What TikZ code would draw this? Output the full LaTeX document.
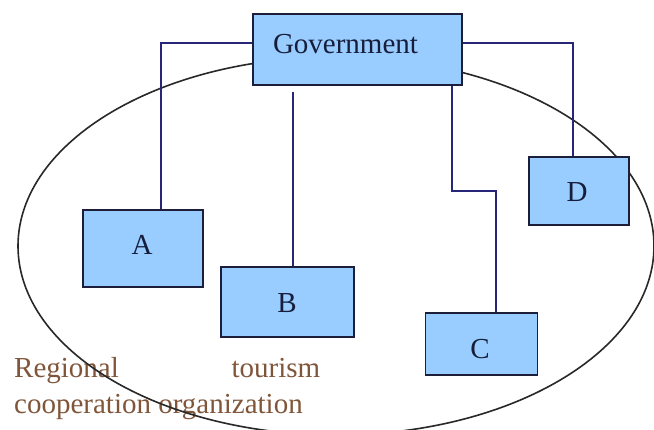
\documentclass[tikz,border=0pt]{standalone}
\usepackage{fontspec}
\setmainfont{Liberation Serif}
\begin{document}
\begin{tikzpicture}[x=1pt,y=-1pt,
  unitbox/.style={draw=boxline, fill=boxfill, line width=1.8pt, inner sep=0pt},
  boxtext/.style={text=textnavy, font=\fontsize{29}{34}\selectfont, inner sep=0pt},
  link/.style={draw=linkblue, line width=1.4pt},
  captext/.style={text=capbrown, font=\fontsize{29}{36}\selectfont, inner sep=0pt, anchor=base west}]
\definecolor{boxfill}{RGB}{153,204,255}
\definecolor{boxline}{RGB}{28,30,58}
\definecolor{linkblue}{RGB}{40,38,120}
\definecolor{textnavy}{RGB}{22,30,60}
\definecolor{capbrown}{RGB}{128,86,58}
\definecolor{ringgray}{RGB}{40,40,40}

\useasboundingbox[fill=white] (0,0) rectangle (654,430);

% caption of the enclosing organization
\node[captext] (cap1) at (14,378) {\makebox[306pt][s]{Regional tourism}};
\node[captext] (cap2) at (14,414) {cooperation organization};

% the regional organization
\draw[ringgray, line width=1.6pt] (336,246) ellipse [x radius=318, y radius=189];

% units
\node[unitbox, minimum width=209pt, minimum height=71pt] (gov) at (357.5,49.5) {};
\node[unitbox, minimum width=120pt, minimum height=77pt] (a) at (143,248.5) {};
\node[unitbox, minimum width=133pt, minimum height=70pt] (b) at (287.5,302) {};
\node[unitbox, minimum width=112pt, minimum height=62pt] (c) at (481.5,344) {};
\node[unitbox, minimum width=100pt, minimum height=68pt] (d) at (579,191) {};

\node[boxtext] (govt) at (345.5,44) {Government};
\node[boxtext] (at) at (142,245) {A};
\node[boxtext] (bt) at (287,303) {B};
\node[boxtext] (ct) at (480,349) {C};
\node[boxtext] (dt) at (577,192) {D};

% connectors from the government
\coordinate (ka) at (161,43);
\coordinate (kd) at (573,43);
\coordinate (kc1) at (452,191);
\coordinate (kc2) at (496,191);
\draw[link] (gov.west |- ka) -- (ka) -- (ka |- a.north);
\draw[link] (293,92) -- (293,0 |- b.north);
\draw[link] (kc1 |- gov.south) -- (kc1) -- (kc2) -- (kc2 |- c.north);
\draw[link] (gov.east |- kd) -- (kd) -- (kd |- d.north);
\end{tikzpicture}
\end{document}
